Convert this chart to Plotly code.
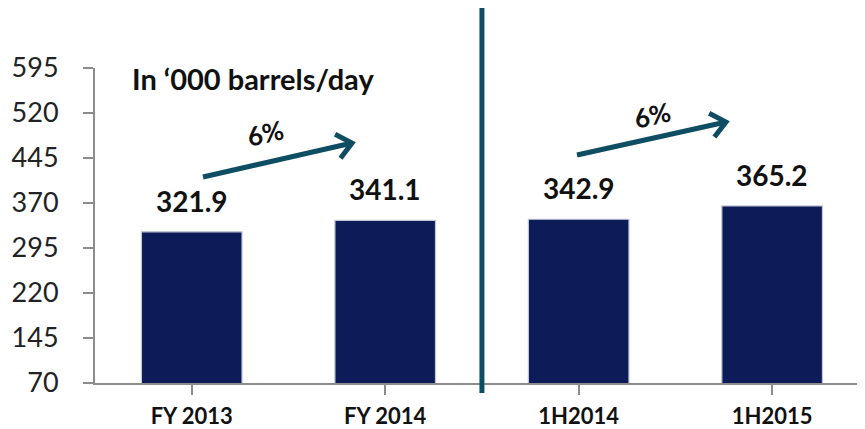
import plotly.graph_objects as go
import math

categories = ["FY 2013", "FY 2014", "1H2014", "1H2015"]
values = [321.9, 341.1, 342.9, 365.2]
value_labels = ["321.9", "341.1", "342.9", "365.2"]
y_ticks = [70, 145, 220, 295, 370, 445, 520, 595]
growth_labels = ["6%", "6%"]
unit_label = "In \u2018000 barrels/day"

OFF = 8  # default page body margin
W, H = 865 - OFF, 429 - OFF
# plot area in screen pixels: x 95..865, y 68..383
L, R, T, B = 95 - OFF, 0, 68 - OFF, 429 - 383
PW, PH = W - L - R, H - T - B
TEAL = "#0f4d63"
FONT = "Lato"

def px(x):
    return (x - OFF - L) / PW

def py(y):
    return (H + OFF - B - y) / PH

fig = go.Figure()
fig.add_trace(go.Bar(
    x=list(range(len(categories))), y=values, width=0.52,
    marker=dict(color="#0d1c58", line=dict(color="#c3c8d6", width=1.2)),
    hoverinfo="skip",
))

for i, (v, t) in enumerate(zip(values, value_labels)):
    fig.add_annotation(x=i, y=v, text=f"<b>{t}</b>", showarrow=False,
                       xanchor="center", yanchor="bottom", yshift=12,
                       font=dict(family=FONT, size=28, color="#111111"))

# divider between annual and half-year comparison
fig.add_shape(type="line", xref="x", yref="paper", x0=1.5, x1=1.5,
              y0=py(393), y1=py(6), line=dict(color=TEAL, width=5))

# growth arrows (pixel geometry -> paper)
arrows = [((203, 177), (352, 143)), ((577, 155), (726, 122))]
label_pos = [(265, 133), (652, 115)]
for ((x0, y0), (x1, y1)), lab, (lx, ly) in zip(arrows, growth_labels, label_pos):
    ang = math.atan2(y1 - y0, x1 - x0)
    arm = 19
    pts = []
    for d in (math.radians(40), -math.radians(40)):
        a = ang + math.pi + d
        pts.append((x1 + arm * math.cos(a), y1 + arm * math.sin(a)))
    path = (f"M {px(x0)},{py(y0)} L {px(x1)},{py(y1)} "
            f"M {px(pts[0][0])},{py(pts[0][1])} L {px(x1)},{py(y1)} L {px(pts[1][0])},{py(pts[1][1])}")
    fig.add_shape(type="path", xref="paper", yref="paper", path=path,
                  line=dict(color=TEAL, width=5))
    fig.add_annotation(xref="paper", yref="paper", x=px(lx), y=py(ly),
                       xanchor="center", yanchor="middle",
                       text=f"<b>{lab}</b>", showarrow=False, textangle=-13,
                       font=dict(family=FONT, size=26, color="#111111"))

fig.add_annotation(xref="paper", yref="paper", x=px(130), y=py(78),
                   xanchor="left", yanchor="middle", showarrow=False,
                   text=f"<b>{unit_label}</b>",
                   font=dict(family=FONT, size=29, color="#111111"))

fig.update_layout(
    width=W, height=H, margin=dict(l=L, r=R, t=T, b=B),
    paper_bgcolor="white", plot_bgcolor="white", showlegend=False,
    xaxis=dict(range=[-0.5, 3.48], tickmode="array", automargin=False,
               tickvals=list(range(len(categories))), ticktext=[f"<b>{c}</b>" for c in categories],
               tickson="boundaries", ticks="outside", ticklen=10, tickwidth=2, tickcolor="#8c8c8c",
               showline=True, linecolor="#8c8c8c", linewidth=2, showgrid=False, zeroline=False,
               ticklabelstandoff=3,
               tickfont=dict(family=FONT, size=22, color="#111111")),
    yaxis=dict(range=[70, 595], tickmode="array", tickvals=y_ticks, automargin=False,
               ticks="outside", ticklen=10, tickwidth=2, tickcolor="#8c8c8c",
               showline=True, linecolor="#8c8c8c", linewidth=2, showgrid=False, zeroline=False,
               ticklabelstandoff=19,
               tickfont=dict(family=FONT, size=27, color="#222222")),
)

fig.write_html("out.html")
